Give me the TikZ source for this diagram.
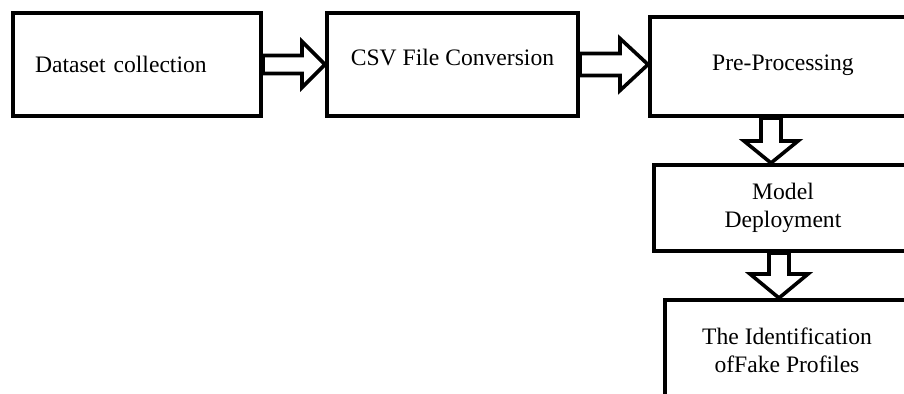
\documentclass[tikz,border=0pt]{standalone}
\usepackage{fontspec}
\setmainfont{Liberation Serif}
\usetikzlibrary{calc}

\begin{document}
\begin{tikzpicture}[
  x=0.5pt, y=-0.5pt,
  every node/.style={font=\fontsize{11.8}{14}\selectfont},
  stagebox/.style={draw,line width=2pt,minimum height=51.5pt,inner sep=0pt},
  blockarr/.style={draw,line width=1.8pt,fill=white,line join=miter},
]
  \useasboundingbox (0,0) rectangle (904,394);
  \fill[white] (0,0) rectangle (904,394);
  \clip (0,0) rectangle (904,394);
  % Boxes
  \node[stagebox,minimum width=124pt,text width=102pt,inner xsep=11pt,align=left] (dc) at (137,64.5) {Dataset collection};
  \node[stagebox,minimum width=125.5pt,text depth=7pt] (csv) at (452.5,64.5) {CSV File Conversion};
  \node[stagebox,minimum width=133pt,minimum height=49.5pt,text depth=4pt] (pp) at (783,66.5) {Pre-Processing};
  \node[stagebox,minimum width=129pt,minimum height=43pt,align=center] (md) at (783,208) {Model\\Deployment};
  \node[stagebox,minimum width=122pt,minimum height=50pt,align=center] (fp) at (787,350) {The Identification\\ofFake Profiles};
  % arrow axes for the downward arrows
  \coordinate (ax1) at (771,0);
  \coordinate (ax2) at (779,0);
  % Arrow 1
  \draw[blockarr] ($(dc.east)+(0,-9)$) -- ($(csv.west)+(-23,-9)$) -- ($(csv.west)+(-23,-23)$)
    -- (csv.west) -- ($(csv.west)+(-23,23)$) -- ($(csv.west)+(-23,9)$) -- ($(dc.east)+(0,9)$) -- cycle;
  % Arrow 2
  \draw[blockarr] ($(csv.east)+(0,-11)$) -- ($(pp.west |- csv.east)+(-28,-11)$) -- ($(pp.west |- csv.east)+(-28,-26)$)
    -- (pp.west |- csv.east) -- ($(pp.west |- csv.east)+(-28,26)$) -- ($(pp.west |- csv.east)+(-28,11)$) -- ($(csv.east)+(0,11)$) -- cycle;
  % Arrow 3
  \draw[blockarr] ($(pp.south -| ax1)+(-10,0)$) -- ($(md.north -| ax1)+(-10,-22)$) -- ($(md.north -| ax1)+(-27,-22)$)
    -- (md.north -| ax1) -- ($(md.north -| ax1)+(27,-22)$) -- ($(md.north -| ax1)+(10,-22)$) -- ($(pp.south -| ax1)+(10,0)$) -- cycle;
  % Arrow 4
  \draw[blockarr] ($(md.south -| ax2)+(-10,0)$) -- ($(fp.north -| ax2)+(-10,-24)$) -- ($(fp.north -| ax2)+(-29,-24)$)
    -- (fp.north -| ax2) -- ($(fp.north -| ax2)+(29,-24)$) -- ($(fp.north -| ax2)+(10,-24)$) -- ($(md.south -| ax2)+(10,0)$) -- cycle;
\end{tikzpicture}
\end{document}
